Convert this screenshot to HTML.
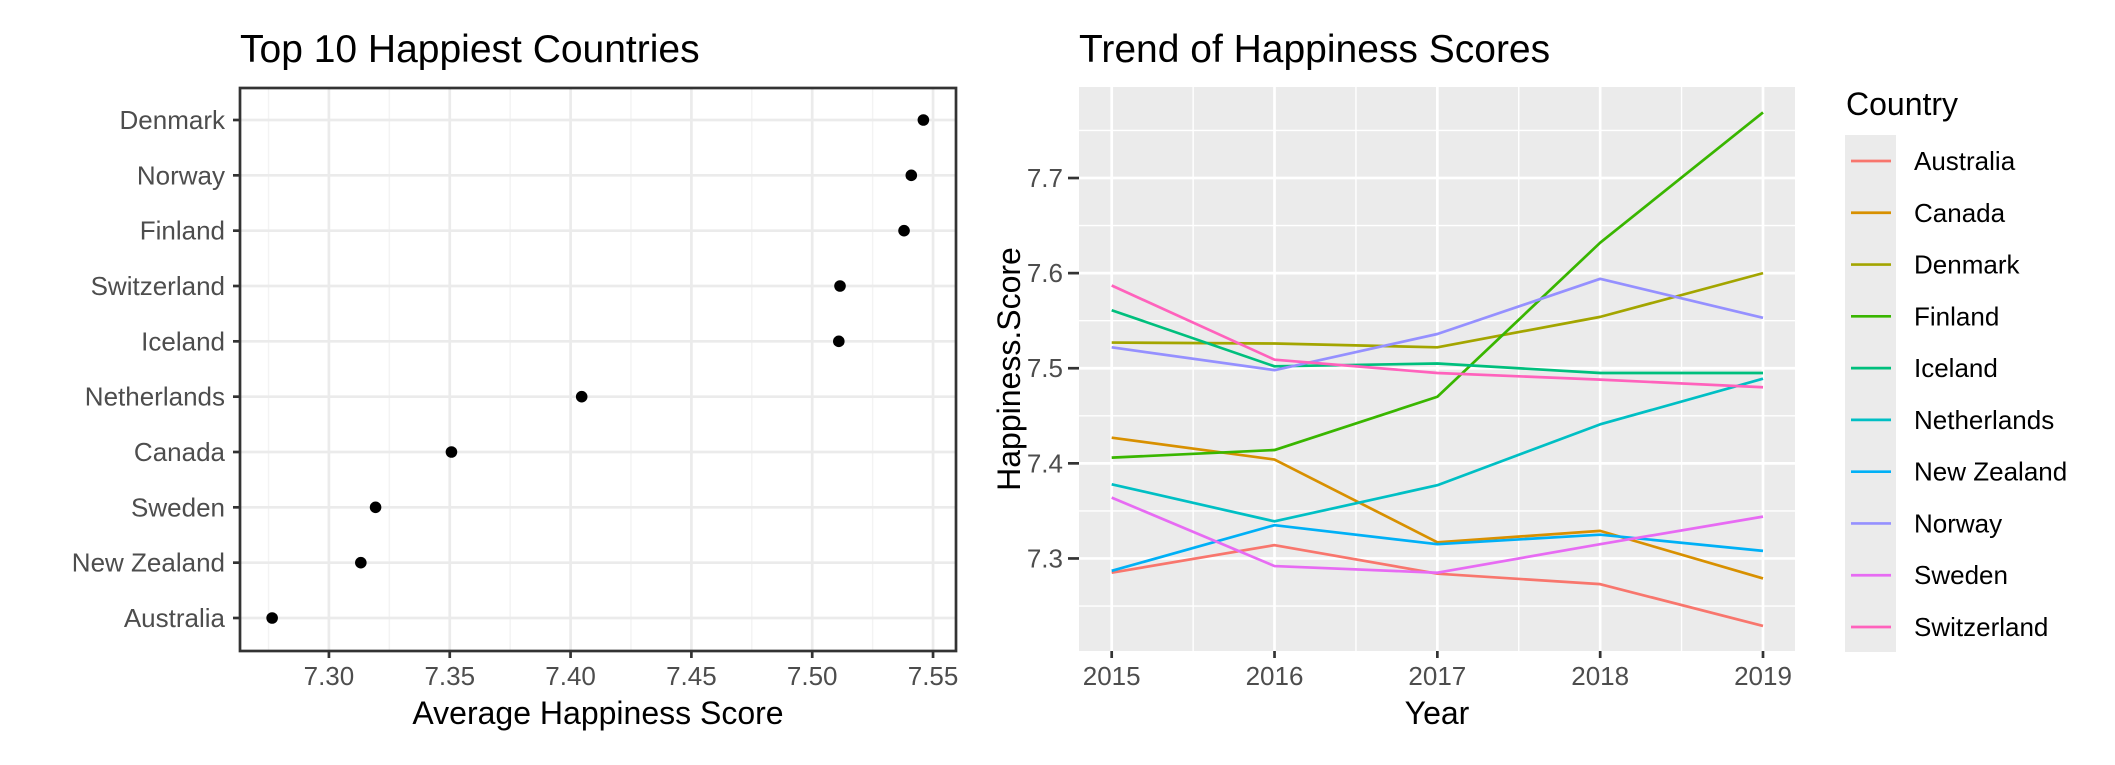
<!DOCTYPE html>
<html><head><meta charset="utf-8"><style>
html,body{margin:0;padding:0;background:#fff;}
svg{display:block;font-family:"Liberation Sans",Arial,sans-serif;}
</style></head><body>
<svg id="chart" width="2115" height="765" viewBox="0 0 2115 765" xmlns="http://www.w3.org/2000/svg">
<rect width="2115" height="765" fill="#fff"/>
<g id="left"></g>
<g id="right"></g>
</svg>
<script>
const dotCountries = ["Denmark","Norway","Finland","Switzerland","Iceland","Netherlands","Canada","Sweden","New Zealand","Australia"];
const dotValues = [7.546,7.541,7.538,7.5115,7.511,7.4046,7.3507,7.3193,7.3132,7.2765];
const dotTicks = [7.30,7.35,7.40,7.45,7.50,7.55];

const years = [2015,2016,2017,2018,2019];
const trendCountries = ["Australia","Canada","Denmark","Finland","Iceland","Netherlands","New Zealand","Norway","Sweden","Switzerland"];
const trendColors = ["#F8766D","#D89000","#A3A500","#39B600","#00BF7D","#00BFC4","#00B0F6","#9590FF","#E76BF3","#FF62BC"];
const australia = [7.285,7.314,7.284,7.273,7.229];
const canada = [7.427,7.404,7.317,7.329,7.279];
const denmark = [7.527,7.526,7.522,7.554,7.600];
const finland = [7.406,7.414,7.470,7.632,7.769];
const iceland = [7.561,7.502,7.505,7.495,7.495];
const netherlands = [7.378,7.339,7.377,7.441,7.489];
const newZealand = [7.287,7.335,7.315,7.325,7.308];
const norway = [7.522,7.498,7.536,7.594,7.553];
const sweden = [7.364,7.292,7.285,7.315,7.344];
const switzerland = [7.587,7.509,7.495,7.488,7.480];
const trendSeries = [australia,canada,denmark,finland,iceland,netherlands,newZealand,norway,sweden,switzerland];
const trendYTicks = [7.3,7.4,7.5,7.6,7.7];

const NS="http://www.w3.org/2000/svg";
function mk(parent,tag,attrs,text){const e=document.createElementNS(NS,tag);for(const k in attrs)e.setAttribute(k,attrs[k]);if(text!==undefined)e.textContent=text;parent.appendChild(e);return e;}

// LEFT PANEL
const L=document.getElementById('left');
const lx0=240,lx1=956,ly0=88,ly1=651;
const lxMin=7.2632,lxMax=7.5595;
const lxs=v=>lx0+(v-lxMin)/(lxMax-lxMin)*(lx1-lx0);
const rowY=i=>120+i*(618-120)/(dotCountries.length-1);
let t=mk(L,'text',{x:240,y:62,'font-size':39,fill:'#000'},'Top 10 Happiest Countries');

mk(L,'rect',{x:lx0,y:ly0,width:lx1-lx0,height:ly1-ly0,fill:'#fff'});
for(let i=0;i<dotTicks.length-1;i++){const m=(dotTicks[i]+dotTicks[i+1])/2;mk(L,'line',{x1:lxs(m),x2:lxs(m),y1:ly0,y2:ly1,stroke:'#f3f3f3','stroke-width':1.4});}
{const m=dotTicks[0]-0.025;mk(L,'line',{x1:lxs(m),x2:lxs(m),y1:ly0,y2:ly1,stroke:'#f3f3f3','stroke-width':1.4});}
dotTicks.forEach(v=>mk(L,'line',{x1:lxs(v),x2:lxs(v),y1:ly0,y2:ly1,stroke:'#ebebeb','stroke-width':2.7}));
dotCountries.forEach((c,i)=>mk(L,'line',{x1:lx0,x2:lx1,y1:rowY(i),y2:rowY(i),stroke:'#ebebeb','stroke-width':2.7}));
dotCountries.forEach((c,i)=>{
  const d=mk(L,'circle',{cx:lxs(dotValues[i]),cy:rowY(i),r:5.8,fill:'#000'});
  
  
  mk(L,'line',{x1:233,x2:lx0,y1:rowY(i),y2:rowY(i),stroke:'#333','stroke-width':2.7});
  const lb=mk(L,'text',{x:225,y:rowY(i)+9,'font-size':26,fill:'#4d4d4d','text-anchor':'end'},c);
  
  
});
mk(L,'rect',{x:lx0,y:ly0,width:lx1-lx0,height:ly1-ly0,fill:'none',stroke:'#333','stroke-width':2.7});
dotTicks.forEach(v=>{
  mk(L,'line',{x1:lxs(v),x2:lxs(v),y1:ly1,y2:ly1+7,stroke:'#333','stroke-width':2.7});
  const lb=mk(L,'text',{x:lxs(v),y:685,'font-size':26,fill:'#4d4d4d','text-anchor':'middle'},v.toFixed(2));
  
  
});
t=mk(L,'text',{x:(lx0+lx1)/2,y:724,'font-size':32,fill:'#000','text-anchor':'middle'},'Average Happiness Score');


// RIGHT PANEL
const R=document.getElementById('right');
const rx0=1079,rx1=1795,ry0=87,ry1=651;
const rxs=y=>1111.7+(y-2015)*(1763-1111.7)/4;
const yMin=7.2027,yMax=7.7957;
const rys=v=>ry1-(v-yMin)/(yMax-yMin)*(ry1-ry0);
t=mk(R,'text',{x:1079,y:62,'font-size':39,fill:'#000'},'Trend of Happiness Scores');

mk(R,'rect',{x:rx0,y:ry0,width:rx1-rx0,height:ry1-ry0,fill:'#ebebeb'});
for(let i=0;i<years.length-1;i++){const m=(years[i]+years[i+1])/2;mk(R,'line',{x1:rxs(m),x2:rxs(m),y1:ry0,y2:ry1,stroke:'#fff','stroke-width':1.4});}
[7.25,7.35,7.45,7.55,7.65,7.75].forEach(v=>mk(R,'line',{x1:rx0,x2:rx1,y1:rys(v),y2:rys(v),stroke:'#fff','stroke-width':1.4}));
years.forEach(y=>mk(R,'line',{x1:rxs(y),x2:rxs(y),y1:ry0,y2:ry1,stroke:'#fff','stroke-width':2.7}));
trendYTicks.forEach(v=>mk(R,'line',{x1:rx0,x2:rx1,y1:rys(v),y2:rys(v),stroke:'#fff','stroke-width':2.7}));
trendSeries.forEach((s,i)=>{
  const p=mk(R,'polyline',{points:s.map((v,j)=>rxs(years[j])+','+rys(v)).join(' '),fill:'none',stroke:trendColors[i],'stroke-width':2.7,'stroke-linejoin':'round'});
  
  
});
trendYTicks.forEach(v=>{
  mk(R,'line',{x1:1068,x2:rx0,y1:rys(v),y2:rys(v),stroke:'#333','stroke-width':2.7});
  const lb=mk(R,'text',{x:1063,y:rys(v)+9,'font-size':26,fill:'#4d4d4d','text-anchor':'end'},v.toFixed(1));
  
  
});
years.forEach(y=>{
  mk(R,'line',{x1:rxs(y),x2:rxs(y),y1:ry1,y2:ry1+7,stroke:'#333','stroke-width':2.7});
  const lb=mk(R,'text',{x:rxs(y),y:685,'font-size':26,fill:'#4d4d4d','text-anchor':'middle'},String(y));
  
  
});
t=mk(R,'text',{x:(rx0+rx1)/2,y:724,'font-size':32,fill:'#000','text-anchor':'middle'},'Year');

t=mk(R,'text',{x:0,y:0,'font-size':32,fill:'#000','text-anchor':'middle',transform:'translate(1020,369) rotate(-90)'},'Happiness.Score');


// LEGEND
const G=mk(R,'g',{});


t=mk(G,'text',{x:1846,y:115,'font-size':32,fill:'#000'},'Country');

mk(G,'rect',{x:1845,y:135,width:51,height:517,fill:'#ebebeb'});
trendCountries.forEach((c,i)=>{
  const y=161+i*(627-161)/9;
  const e=mk(G,'g',{});
  
  
  mk(e,'line',{x1:1851,x2:1891,y1:y,y2:y,stroke:trendColors[i],'stroke-width':2.7});
  mk(e,'text',{x:1914,y:y+9,'font-size':26,fill:'#000'},c);
});
</script>
</body></html>
